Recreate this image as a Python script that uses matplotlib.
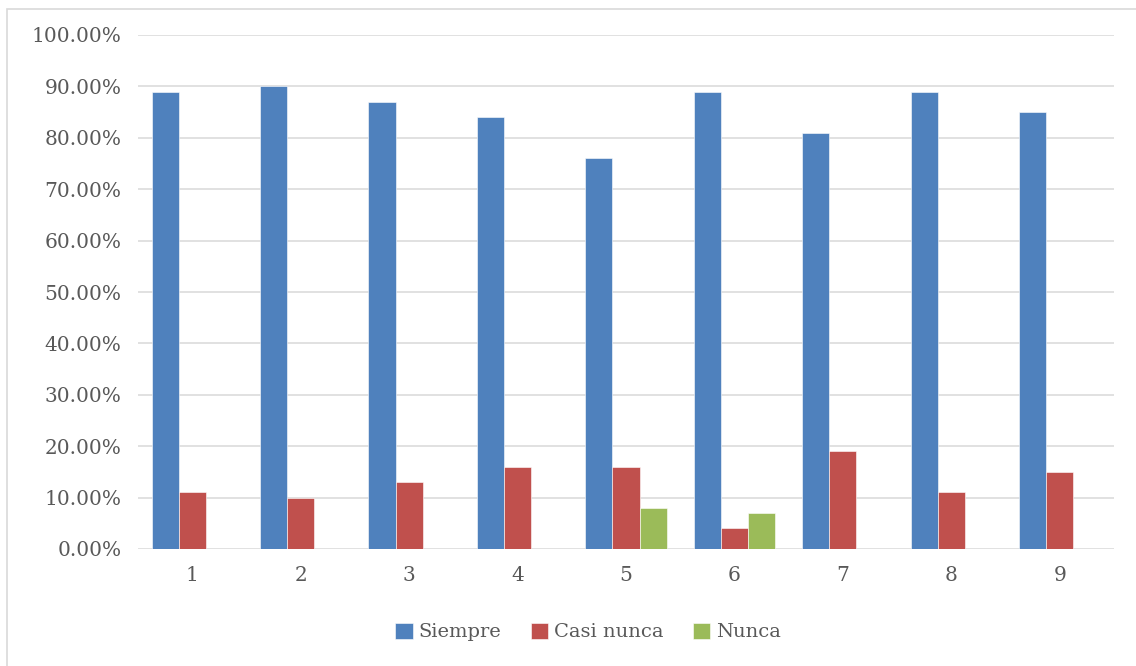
import matplotlib
matplotlib.use("Agg")
import matplotlib.pyplot as plt
from matplotlib.patches import Rectangle
from matplotlib.ticker import FuncFormatter
import numpy as np

categories = ["1", "2", "3", "4", "5", "6", "7", "8", "9"]
siempre = [89, 90, 87, 84, 76, 89, 81, 89, 85]
casi_nunca = [11, 10, 13, 16, 16, 4, 19, 11, 15]
nunca = [0, 0, 0, 0, 8, 7, 0, 0, 0]

series = [
    ("Siempre", siempre, "#4F81BD"),
    ("Casi nunca", casi_nunca, "#C0504D"),
    ("Nunca", nunca, "#9BBB59"),
]

W, H = 1136, 666
fig = plt.figure(figsize=(W / 100, H / 100), dpi=100)
fig.patch.set_facecolor("white")

# chart frame (only top and left edges fall inside the image)
fig.patches.append(Rectangle((7 / W, -0.1), 1.2, 1.1 - 9 / H,
                             transform=fig.transFigure, fill=False,
                             edgecolor="#D9D9D9", linewidth=1.2))

ax = fig.add_axes([138 / W, 1 - 549 / H, (1114 - 138) / W, (549 - 35) / H])
text_color = "#595959"
font = "DejaVu Serif"

x = np.arange(len(categories))
bar_w = 0.25
for i, (name, vals, color) in enumerate(series):
    ax.bar(x + (i - 1) * bar_w, vals, width=bar_w, color=color, label=name,
           edgecolor="white", linewidth=0.4, zorder=3)

ax.set_xlim(-0.5, len(categories) - 0.5)
ax.set_ylim(0, 100)
ax.set_yticks(np.arange(0, 101, 10))
ax.yaxis.set_major_formatter(FuncFormatter(lambda v, p: f"{v:.2f}%"))
ax.set_xticks(x)
ax.set_xticklabels(categories)

ax.grid(axis="y", color="#DEDEDE", linewidth=1.3, zorder=0)
for s in ["top", "right", "left", "bottom"]:
    ax.spines[s].set_visible(False)
ax.tick_params(axis="both", length=0, colors=text_color, labelsize=14.5)
ax.tick_params(axis="y", pad=12)
ax.tick_params(axis="x", pad=12)
for lbl in ax.get_xticklabels() + ax.get_yticklabels():
    lbl.set_fontfamily(font)

leg = fig.legend(loc="center", bbox_to_anchor=(588 / W, 1 - 632 / H), ncol=3,
                 frameon=False, prop={"family": font, "size": 14},
                 handlelength=0.9, handleheight=0.9, handletextpad=0.3,
                 columnspacing=1.5)
for t in leg.get_texts():
    t.set_color(text_color)

fig.savefig("out.png", dpi=100, facecolor="white")
